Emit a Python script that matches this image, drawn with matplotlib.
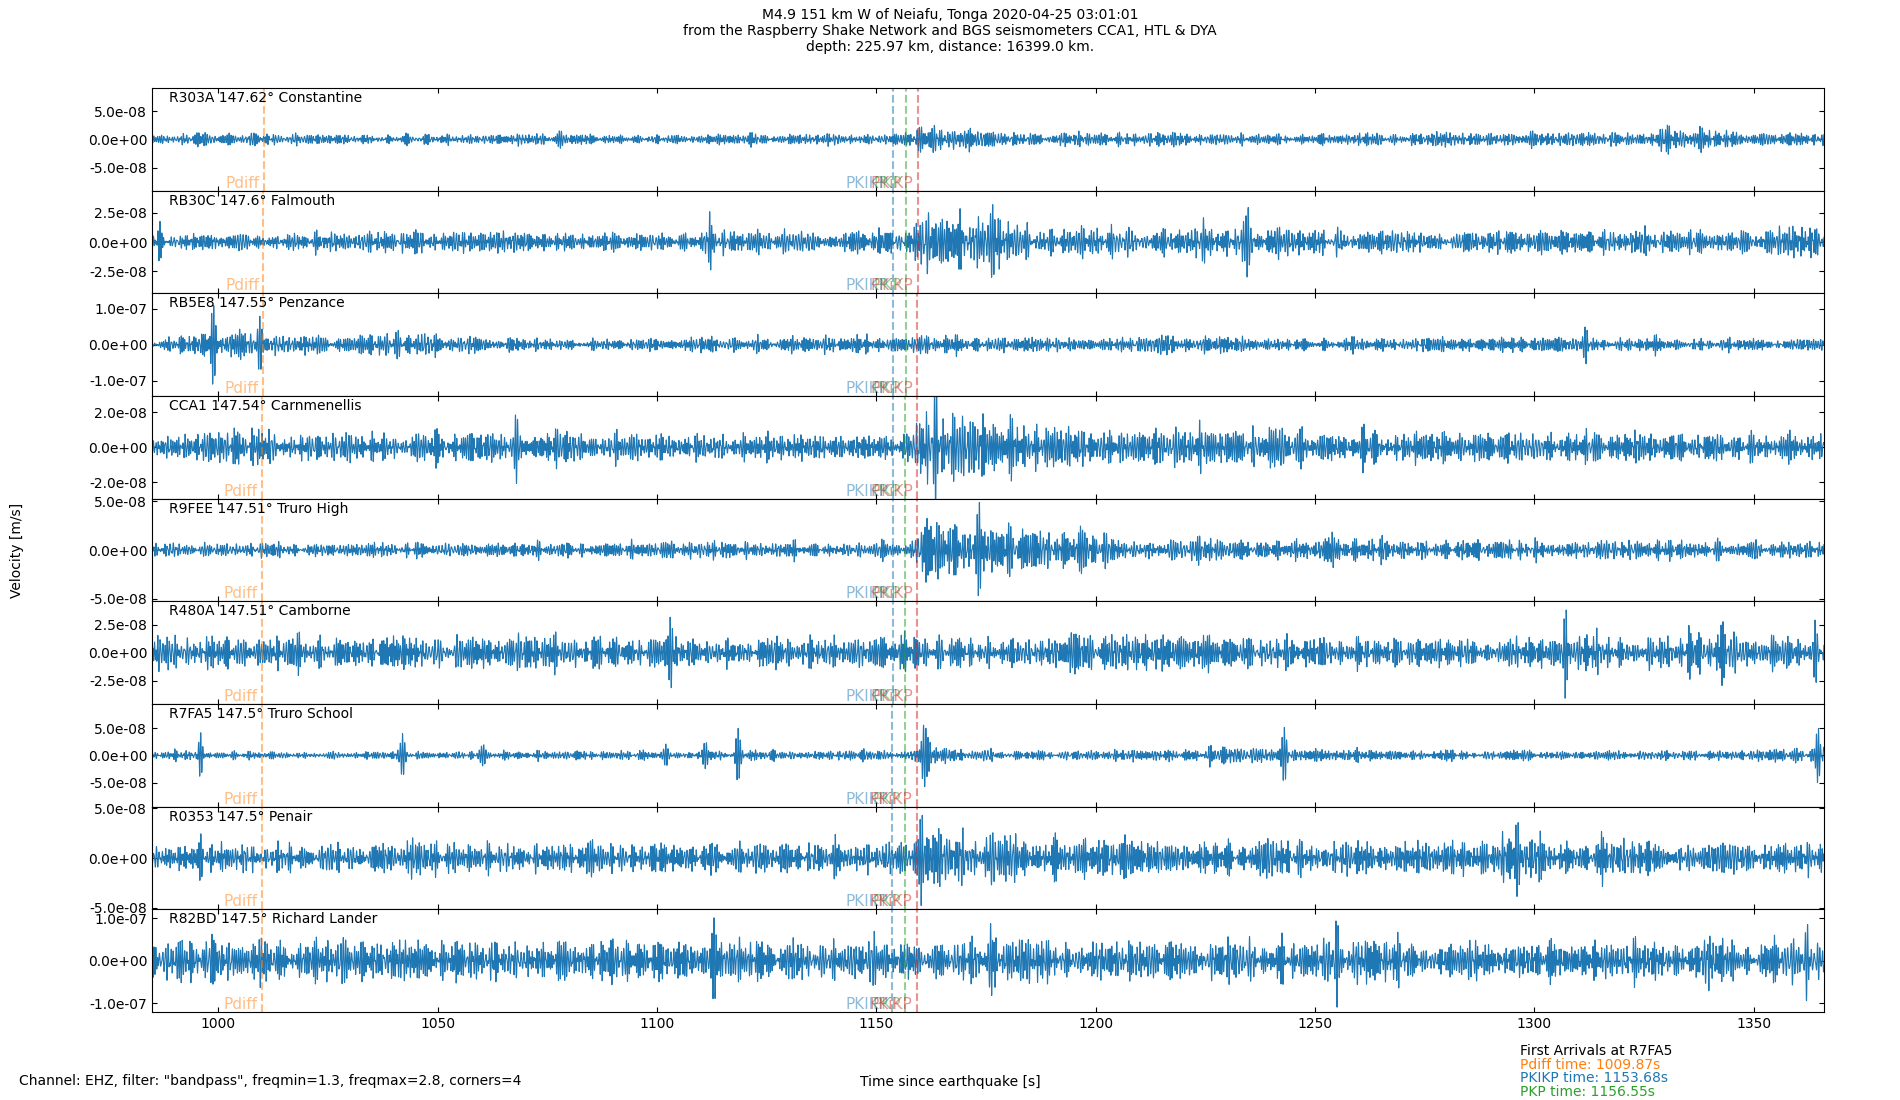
import numpy as np
import matplotlib
matplotlib.use("Agg")
import matplotlib.pyplot as plt
from matplotlib.ticker import FormatStrFormatter

# ============================================================
# Event / station info
# ============================================================

title = ("M4.9 151 km W of Neiafu, Tonga 2020-04-25 03:01:01\n"
         "from the Raspberry Shake Network and BGS seismometers CCA1, HTL & DYA\n"
         "depth: 225.97 km, distance: 16399.0 km.")
filter_note = 'Channel: EHZ, filter: "bandpass", freqmin=1.3, freqmax=2.8, corners=4'

codes = ["R303A", "RB30C", "RB5E8", "CCA1", "R9FEE", "R480A", "R7FA5", "R0353", "R82BD"]
dists = ["147.62", "147.6", "147.55", "147.54", "147.51", "147.51", "147.5", "147.5", "147.5"]
places = ["Constantine", "Falmouth", "Penzance", "Carnmenellis", "Truro High",
          "Camborne", "Truro School", "Penair", "Richard Lander"]

# axis limits / ticks per panel (m/s)
ylims = [9.1e-8, 4.4e-8, 1.42e-7, 2.93e-8, 5.25e-8, 4.6e-8, 9.4e-8, 5.15e-8, 1.21e-7]
yticks = [5e-8, 2.5e-8, 1e-7, 2e-8, 5e-8, 2.5e-8, 5e-8, 5e-8, 1e-7]
xlim = (984.9, 1366.0)

# phase arrival times per station (s)
t_pdiff = [1010.40, 1010.31, 1010.09, 1010.05, 1009.91, 1009.91, 1009.87, 1009.87, 1009.87]
t_pkikp = [1153.88, 1153.84, 1153.77, 1153.75, 1153.70, 1153.70, 1153.68, 1153.68, 1153.68]
t_pkp = [1156.78, 1156.74, 1156.65, 1156.63, 1156.57, 1156.57, 1156.55, 1156.55, 1156.55]
t_pkikp2 = [1159.45, 1159.42, 1159.35, 1159.34, 1159.30, 1159.30, 1159.28, 1159.28, 1159.28]

# ============================================================
# Trace amplitude envelopes (units 1e-8 m/s)
# ============================================================

env_t = [985, 995, 1005, 1015, 1025, 1035, 1045, 1055, 1065, 1075, 1085, 1095,
         1105, 1115, 1125, 1135, 1145, 1152, 1158, 1161, 1165, 1172, 1180, 1190,
         1200, 1215, 1230, 1245, 1260, 1275, 1290, 1305, 1320, 1335, 1350, 1366]

env_R303A = [0.9, 1.1, 1.2, 1.0, 1.0, 0.9, 1.0, 0.9, 1.0, 1.1, 1.0, 1.0, 0.9, 1.0, 1.0, 1.0, 1.1, 1.0,
             1.1, 2.8, 2.2, 1.7, 1.6, 1.4, 1.3, 1.3, 1.2, 1.2, 1.2, 1.3, 1.3, 1.2, 1.3, 2.3, 1.1, 1.0]
env_RB30C = [0.7, 0.8, 0.8, 0.8, 0.9, 1.1, 1.1, 1.0, 1.1, 0.9, 0.9, 0.9, 1.0, 1.2, 0.9, 1.0, 1.0, 1.0,
             1.1, 2.8, 2.6, 2.4, 2.0, 1.5, 1.4, 1.4, 1.5, 1.2, 1.1, 1.1, 1.0, 1.0, 1.1, 1.0, 1.1, 1.4]
env_RB5E8 = [1.4, 4.0, 4.5, 3.0, 2.8, 3.0, 3.2, 2.6, 2.0, 1.8, 1.9, 1.8, 1.8, 2.0, 2.3, 2.2, 2.3, 2.2,
             2.4, 2.6, 3.0, 2.4, 2.3, 2.6, 2.2, 2.6, 2.1, 2.0, 2.0, 2.0, 1.9, 2.2, 1.9, 1.9, 1.9, 1.9]
env_CCA1 = [0.6, 0.8, 1.0, 0.9, 0.9, 1.0, 0.9, 0.9, 1.0, 0.9, 0.9, 0.9, 0.9, 0.9, 0.8, 0.8, 0.8, 0.8,
            1.0, 2.1, 2.1, 1.9, 1.6, 1.3, 1.1, 1.1, 1.0, 1.1, 1.0, 1.0, 0.9, 0.9, 1.0, 0.9, 0.9, 1.0]
env_R9FEE = [0.7, 0.8, 0.8, 0.8, 0.8, 0.8, 0.8, 0.8, 0.8, 0.8, 0.8, 0.9, 0.9, 0.9, 0.8, 0.8, 0.8, 0.8,
             0.9, 3.8, 3.3, 2.8, 2.4, 2.0, 1.5, 1.3, 1.2, 1.1, 1.2, 1.1, 1.1, 1.0, 1.1, 1.0, 1.0, 1.1]
env_R480A = [1.4, 1.6, 1.7, 1.7, 1.6, 1.5, 1.6, 1.5, 1.6, 1.7, 1.6, 1.6, 1.5, 1.6, 1.6, 1.6, 1.7, 1.6,
             1.5, 1.6, 1.4, 1.2, 1.3, 1.6, 1.7, 1.6, 1.7, 1.6, 1.5, 1.3, 1.2, 1.6, 1.6, 1.7, 1.6, 1.7]
env_R7FA5 = [0.8, 0.9, 0.8, 0.8, 0.8, 0.8, 0.8, 0.8, 0.8, 0.8, 0.9, 0.9, 0.9, 0.9, 0.8, 0.8, 0.8, 0.9,
             1.0, 2.2, 1.8, 1.5, 1.3, 1.0, 1.1, 1.4, 1.5, 1.4, 1.0, 0.9, 0.9, 0.9, 0.9, 0.9, 1.0, 1.3]
env_R0353 = [1.4, 1.5, 1.5, 1.6, 1.7, 1.7, 1.6, 1.6, 1.7, 1.6, 1.7, 1.6, 1.5, 1.6, 1.6, 1.6, 1.6, 1.7,
             1.9, 3.6, 2.9, 2.5, 2.3, 2.1, 2.2, 2.0, 1.9, 2.0, 1.8, 1.9, 2.0, 1.9, 1.8, 1.8, 1.7, 1.7]
env_R82BD = [4.0, 4.8, 5.0, 5.2, 5.2, 5.0, 5.3, 5.4, 5.2, 5.4, 5.5, 5.2, 5.4, 5.0, 5.1, 5.0, 4.6, 4.6,
             5.0, 5.2, 5.0, 5.0, 5.3, 5.0, 5.2, 5.2, 5.4, 5.0, 5.6, 5.2, 5.0, 5.2, 5.0, 5.2, 5.1, 5.4]

# isolated spikes / bursts: (time s, signed amplitude 1e-8 m/s)
spk_R303A = [(1002.0, 1.2), (1078.0, -1.4), (1159.8, 2.6), (1332.0, 2.2)]
spk_RB30C = [(1112.0, 1.8), (1176.5, 3.3), (1234.5, -2.2)]
spk_RB5E8 = [(999.0, 10.5), (1009.5, 5.5), (1041.0, 4.5), (1311.5, 5.0)]
spk_CCA1 = [(1068.0, -1.25), (1163.5, -2.2), (1246.0, 1.3), (1358.0, -1.2)]
spk_R9FEE = [(1162.0, 4.0), (1173.0, 3.0), (1197.0, 2.6)]
spk_R480A = [(1103.0, 2.8), (1198.5, -3.2), (1307.0, -3.0), (1343.0, 2.8)]
spk_R7FA5 = [(996.0, 3.6), (1042.0, 3.3), (1060.5, 2.4), (1102.0, 2.0), (1111.0, -2.7),
             (1118.5, 4.8), (1161.0, -6.3), (1226.0, -2.4), (1243.0, 4.5), (1364.5, -4.6)]
spk_R0353 = [(1085.0, -2.5), (1160.5, 4.2), (1296.0, -3.0), (1299.5, 2.8)]
spk_R82BD = [(1113.0, 8.3), (1255.0, -7.5), (1362.0, -7.5)]

envelopes = [env_R303A, env_RB30C, env_RB5E8, env_CCA1, env_R9FEE,
             env_R480A, env_R7FA5, env_R0353, env_R82BD]
spikes = [spk_R303A, spk_RB30C, spk_RB5E8, spk_CCA1, spk_R9FEE,
          spk_R480A, spk_R7FA5, spk_R0353, spk_R82BD]

# ============================================================
# Build traces: envelope x fixed band-limited carrier (1.3-2.8 Hz)
# ============================================================

fs = 50
t = np.arange(xlim[0], xlim[1], 1 / fs)


def carrier(t, k):
    # fixed multi-tone texture in the filter band; quadratic phase sequence
    # keeps it noise-like (no pulse trains)
    n = np.arange(1, 241)
    freqs = 1.3 + 1.5 * ((n * 0.6180339887 + n ** 2 * 0.0137) % 1)
    alpha = 1.41421356 + 0.7548777 * (k + 1)
    phases = 2 * np.pi * ((n ** 2 * alpha + n * 0.3183) % 1)
    s = np.sin(2 * np.pi * freqs[:, None] * t[None, :] + phases[:, None]).sum(0)
    return 0.4 * s / s.std()


def wavelet(t, t0, amp):
    return amp * np.exp(-((t - t0) / 0.7) ** 2) * np.cos(2 * np.pi * 2.0 * (t - t0))


traces = []
for k in range(len(codes)):
    tr = np.interp(t, env_t, envelopes[k]) * carrier(t, k)
    for t0, a in spikes[k]:
        tr = tr + wavelet(t, t0, a)
    traces.append(tr * 1e-8)

# ============================================================
# Plot
# ============================================================

phases_info = [("Pdiff", t_pdiff, "tab:orange"),
               ("PKIKP", t_pkikp, "tab:blue"),
               ("PKP", t_pkp, "tab:green"),
               ("PKiKP", t_pkikp2, "tab:red")]

fig, axes = plt.subplots(len(codes), 1, sharex=True, figsize=(19, 11), dpi=100)
fig.subplots_adjust(left=0.08, right=0.96, top=0.92, bottom=0.08, hspace=0)

for k, ax in enumerate(axes):
    ax.plot(t, traces[k], color="tab:blue", lw=0.8)
    yl = ylims[k]
    for name, times, col in phases_info:
        ax.axvline(times[k], color=col, ls="--", lw=1.5, alpha=0.5)
        ax.text(times[k] - 1.0, -yl, name, color=col, alpha=0.5, fontsize=11,
                ha="right", va="bottom")
    ax.text(0.01, 0.97, f"{codes[k]} {dists[k]}° {places[k]}",
            transform=ax.transAxes, va="top")
    ax.set_ylim(-yl, yl)
    ax.set_yticks([-yticks[k], 0, yticks[k]])
    ax.yaxis.set_major_formatter(FormatStrFormatter("%.1e"))
    ax.tick_params(direction="in", top=True, right=True)
    ax.set_xlim(*xlim)

fig.suptitle(title, fontsize=10, y=0.993, va="top")
fig.text(0.0092, 0.5, "Velocity [m/s]", rotation=90, va="center", ha="center")
fig.text(0.5, 0.0165, "Time since earthquake [s]", ha="center", va="center")
fig.text(0.010, 0.0173, filter_note, ha="left", va="center")

fig.text(0.8, 0.0448, "First Arrivals at R7FA5", color="black", va="center")
fig.text(0.8, 0.0318, f"Pdiff time: {t_pdiff[6]:.2f}s", color="tab:orange", va="center")
fig.text(0.8, 0.0197, f"PKIKP time: {t_pkikp[6]:.2f}s", color="tab:blue", va="center")
fig.text(0.8, 0.0075, f"PKP time: {t_pkp[6]:.2f}s", color="tab:green", va="center")

fig.savefig("out.png", dpi=100)
